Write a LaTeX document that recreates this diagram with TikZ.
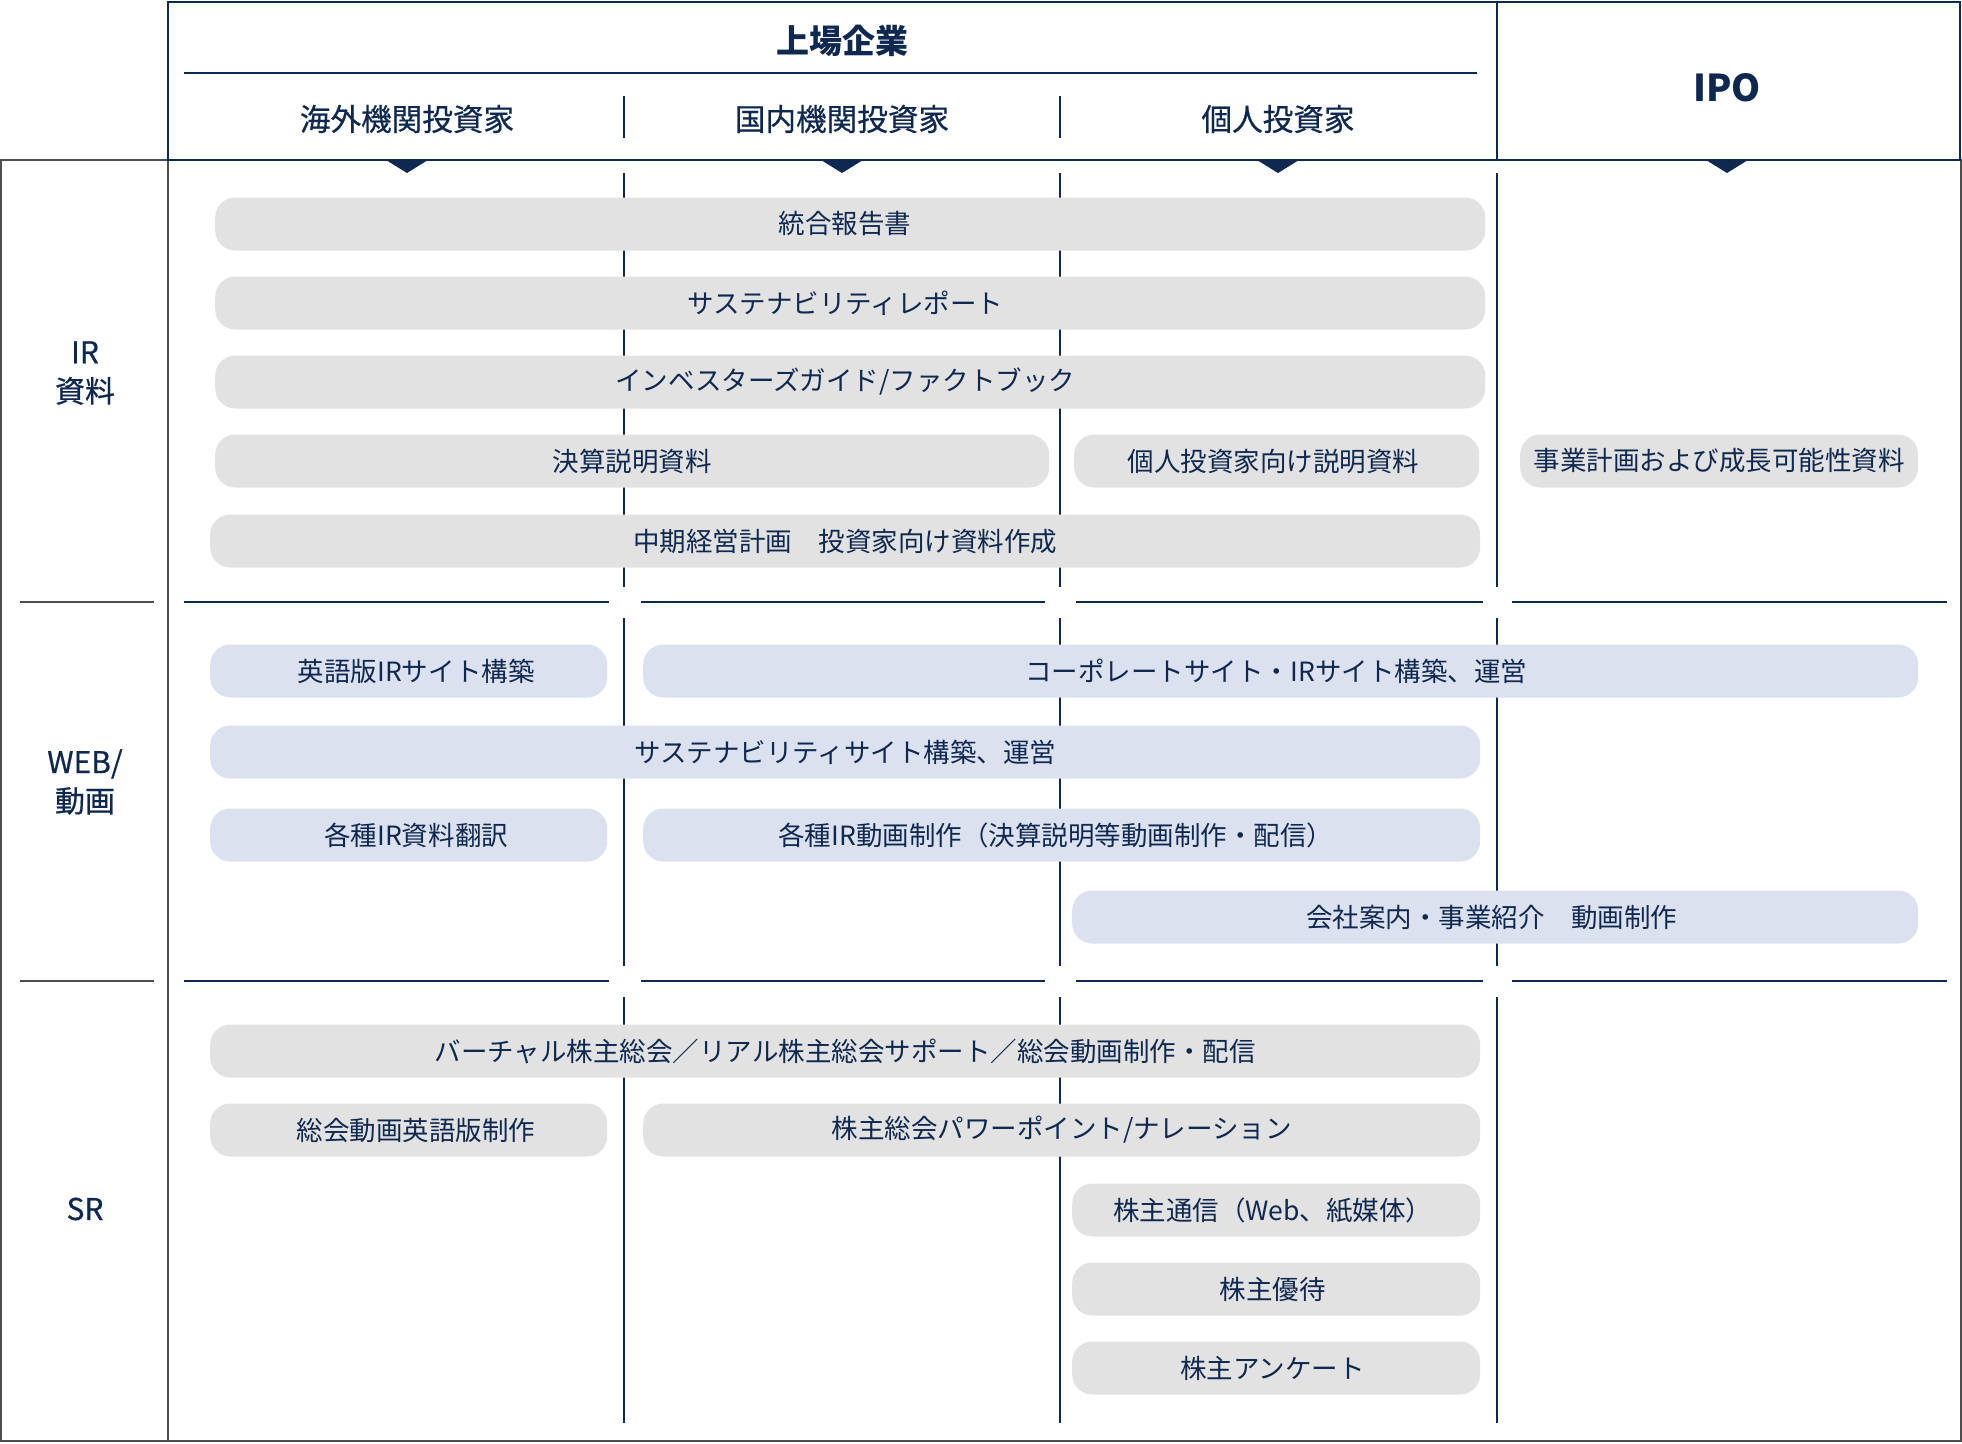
\documentclass[tikz,border=0pt]{standalone}
\usepackage{fontspec}
\setmainfont{Noto Sans CJK JP}
\newfontfamily\jpmed[FakeBold=0.6]{Noto Sans CJK JP}
\usetikzlibrary{positioning}
\definecolor{navy}{HTML}{0F2850}
\definecolor{cgray}{HTML}{E2E2E2}
\definecolor{cblue}{HTML}{DCE1F0}
\definecolor{frame}{HTML}{4D4D4D}
\tikzset{
  pill/.style={rounded corners=20pt, minimum height=53pt, inner sep=0pt,
    anchor=west, text=navy, font=\fontsize{26.5}{30}\selectfont},
  pillgray/.style={pill, fill=cgray},
  pillblue/.style={pill, fill=cblue},
  head/.style={text=navy, font=\jpmed\fontsize{30.6}{36}\selectfont},
  rowlabel/.style={text=navy, align=center, font=\jpmed\fontsize{30}{39}\selectfont},
  grid/.style={draw=navy, line width=2pt}
}
\newcommand{\padl}{\hspace*{15pt}}
\newcommand{\padr}[1]{\hspace*{#1pt}}

\begin{document}
\begin{tikzpicture}[x=1pt, y=-1pt]
\useasboundingbox (0,0) rectangle (1962,1443);

% frames
\draw[frame, line width=2pt] (1,160) rectangle (1961,1441);
\draw[frame, line width=2pt] (168,160) -- (168,1441);
\draw[grid] (168,2) rectangle (1960,160);
\draw[grid] (1497,2) -- (1497,160);
\draw[grid] (184,73) -- (1477,73);

% header
\node[text=navy, font=\bfseries\fontsize{33}{36}\selectfont] (listed) at (842,41) {上場企業};
\node[head] (overseas) at (407,119) {海外機関投資家};
\node[head] (domestic) at (842,119) {国内機関投資家};
\node[head] (retail) at (1278,119) {個人投資家};
\node[text=navy, font=\bfseries\fontsize{37}{40}\selectfont] (ipo) at (1727,88) {IPO};
\foreach \x in {624,1060} \draw[grid] (\x,96) -- (\x,138);
\foreach \x in {407,842,1278,1727}
  \fill[navy] (\x-21,160) -- (\x+21,160) -- (\x,173) -- cycle;

% body grid
\foreach \x in {624,1060,1497} {
  \draw[grid] (\x,173) -- (\x,587);
  \draw[grid] (\x,618) -- (\x,966);
  \draw[grid] (\x,997) -- (\x,1423);
}
\foreach \y in {602,981} {
  \draw[frame, line width=2pt] (20,\y) -- (154,\y);
  \foreach \a/\b in {184/609, 641/1045, 1076/1483, 1512/1947}
    \draw[grid] (\a,\y) -- (\b,\y);
}

% row labels
\node[rowlabel] (ir) at (85,373) {IR\\資料};
\node[rowlabel] (web) at (85,782) {WEB/\\動画};
\node[rowlabel] (sr) at (85,1209) {SR};

% IR
\node[pillgray, minimum width=1270pt] (report) at (215,224) {統合報告書\padr{10}};
\node[pillgray, minimum width=1270pt] (susrep) at (215,303) {サステナビリティレポート\padr{10}};
\node[pillgray, minimum width=1270pt] (guide) at (215,382) {インベスターズガイド/ファクトブック\padr{10}};
\node[pillgray, minimum width=834pt] (results) at (215,461) {決算説明資料};
\node[pillgray, minimum width=405pt] (retailmat) at (1074,461) {個人投資家向け説明資料\padr{6}};
\node[pillgray, minimum width=398pt] (growth) at (1520,461) {事業計画および成長可能性資料};
\node[pillgray, minimum width=1270pt] (midterm) at (210,541) {中期経営計画　投資家向け資料作成};

% WEB
\node[pillblue, minimum width=397pt] (ensite) at (210,671) {\padl 英語版IRサイト構築};
\node[pillblue, minimum width=1275pt] (corpsite) at (643,671) {コーポレートサイト・IRサイト構築、運営\padr{9}};
\node[pillblue, minimum width=1270pt] (sussite) at (210,752) {サステナビリティサイト構築、運営};
\node[pillblue, minimum width=397pt] (transl) at (210,835) {\padl 各種IR資料翻訳};
\node[pillblue, minimum width=837pt] (irvideo) at (643,835) {各種IR動画制作（決算説明等動画制作・配信）\padr{12}};
\node[pillblue, minimum width=846pt] (corpvideo) at (1072,917) {会社案内・事業紹介　動画制作\padr{7}};

% SR
\node[pillgray, minimum width=1270pt] (agm) at (210,1051) {バーチャル株主総会／リアル株主総会サポート／総会動画制作・配信};
\node[pillgray, minimum width=397pt] (agmen) at (210,1130) {\padl 総会動画英語版制作};
\node[pillgray, minimum width=837pt] (agmppt) at (643,1130) {株主総会パワーポイント/ナレーション};
\node[pillgray, minimum width=408pt] (letter) at (1072,1210) {株主通信（Web、紙媒体）\padr{7}};
\node[pillgray, minimum width=408pt] (perks) at (1072,1289) {株主優待\padr{7}};
\node[pillgray, minimum width=408pt] (survey) at (1072,1368) {株主アンケート\padr{7}};
\end{tikzpicture}
\end{document}
